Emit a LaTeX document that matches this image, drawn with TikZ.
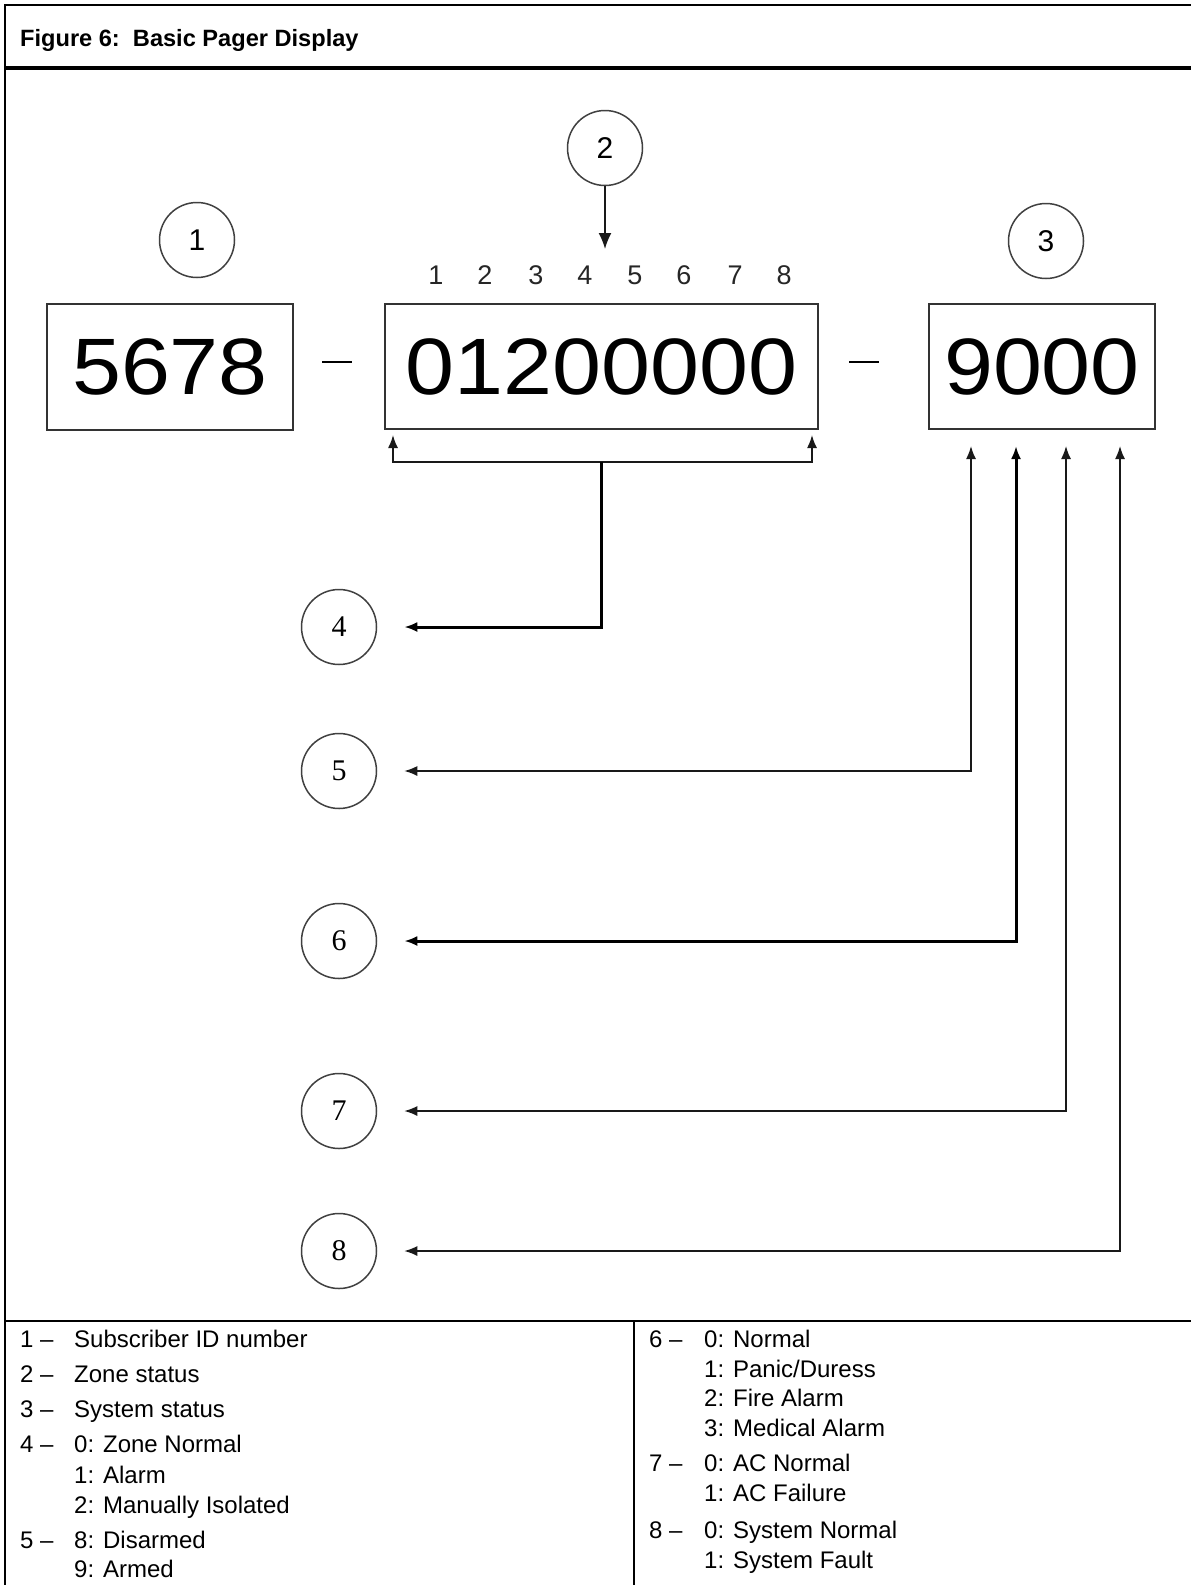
\documentclass[tikz,border=0pt]{standalone}
\usepackage{fontspec}
\setmainfont{Liberation Sans}
\newfontfamily\serifnum{Liberation Serif}
\usetikzlibrary{arrows.meta,calc}
\begin{document}
\begin{tikzpicture}[x=1pt,y=-1pt,
  rule/.style={line width=2pt,black},
  pbox/.style={draw=black!80,line width=2pt,inner sep=0pt,anchor=center,font=\fontsize{80}{90}\selectfont},
  bubble/.style={circle,draw=black!75,line width=1.5pt,minimum size=75pt,inner sep=0pt,font=\fontsize{30}{36}\selectfont},
  sbubble/.style={bubble,font=\fontsize{30}{36}\serifnum},
  conn/.style={line width=1.6pt,black!90},
  thickconn/.style={line width=3pt,black},
  tipend/.style={-{Latex[length=13pt,width=10pt]}},
  bigtip/.style={-{Latex[length=16pt,width=13pt]}},
  tipboth/.style={{Latex[length=13pt,width=10pt]}-{Latex[length=13pt,width=10pt]}},
  poslabel/.style={font=\fontsize{27}{30}\selectfont,text=black!85,inner sep=0pt},
  leg/.style={anchor=base west,inner sep=0pt,font=\fontsize{24}{28}\selectfont},
  title/.style={anchor=base west,inner sep=0pt,font=\fontsize{23.6}{28}\selectfont\bfseries}
]
\fill[white] (0,0) rectangle (1191,1585);
\useasboundingbox (0,0) rectangle (1191,1585);

% frame
\draw[rule] (5,1585) -- (5,5) -- (1191,5);
\draw[line width=4.5pt] (5,68) -- (1191,68);
\draw[rule] (5,1321) -- (1191,1321);
\draw[rule] (634,1321) -- (634,1585);
\node[title] (ttl) at (20,46) {Figure 6:\ \ Basic Pager Display};

% display boxes
\node[pbox,minimum width=246pt,minimum height=126pt] (b1) at (170,367) {\scalebox{1.1}[1]{5678}};
\node[pbox,minimum width=433pt,minimum height=125pt] (b2) at (601.5,366.5) {\scalebox{1.1}[1]{01200000}};
\node[pbox,minimum width=226pt,minimum height=125pt] (b3) at (1042,366.5) {\scalebox{1.1}[1]{9000}};
\draw[line width=2.5pt] (322,362) -- (352,362);
\draw[line width=2.5pt] (849,362) -- (879,362);

% position labels
\foreach \n/\x in {1/436,2/485,3/536,4/585,5/635,6/684,7/735,8/784}
  \node[poslabel] (p\n) at (\x,275) {\n};

% top bubbles
\node[bubble] (c1) at (197,240) {1};
\node[bubble] (c2) at (605,148) {2};
\node[bubble] (c3) at (1046,241) {3};
\coordinate (t2) at (605,249);
\draw[conn,bigtip] (c2) -- (t2);

% bracket under zone box
\coordinate (bl) at (393,462);
\coordinate (br) at (812,462);
\coordinate (bm) at (601,462);
\draw[conn,tipboth,shorten <=5pt,shorten >=5pt] (b2.south -| bl) -- (bl) -- (br) -- (b2.south -| br);

% lower bubbles
\node[sbubble] (c4) at (339,627) {4};
\node[sbubble] (c5) at (339,771) {5};
\node[sbubble] (c6) at (339,941) {6};
\node[sbubble] (c7) at (339,1111) {7};
\node[sbubble] (c8) at (339,1251) {8};

\draw[thickconn,tipend,shorten >=27pt] (bm) |- (c4);

\coordinate (x5) at (971,0);
\coordinate (x6) at (1016,0);
\coordinate (x7) at (1066,0);
\coordinate (x8) at (1120,0);
\draw[conn,tipboth,shorten <=27pt,shorten >=16pt] (c5) -| (b3.south -| x5);
\draw[thickconn,tipboth,shorten <=27pt,shorten >=16pt] (c6) -| (b3.south -| x6);
\draw[conn,tipboth,shorten <=27pt,shorten >=16pt] (c7) -| (b3.south -| x7);
\draw[conn,tipboth,shorten <=27pt,shorten >=16pt] (c8) -| (b3.south -| x8);

% legend left
\node[leg] (n1) at (20,1347) {1 –};
\node[leg] (l1) at (74,1347) {Subscriber ID number};
\node[leg] (n2) at (20,1382) {2 –};
\node[leg] (l2) at (74,1382) {Zone status};
\node[leg] (n3) at (20,1417) {3 –};
\node[leg] (l3) at (74,1417) {System status};
\node[leg] (n4) at (20,1452) {4 –};
\node[leg] (l4a) at (74,1452) {0: Zone Normal};
\node[leg] (l4b) at (74,1483) {1: Alarm};
\node[leg] (l4c) at (74,1513) {2: Manually Isolated};
\node[leg] (n5) at (20,1548) {5 –};
\node[leg] (l5a) at (74,1548) {8: Disarmed};
\node[leg] (l5b) at (74,1577) {9: Armed};

% legend right
\node[leg] (n6) at (649,1347) {6 –};
\node[leg] (l6a) at (704,1347) {0: Normal};
\node[leg] (l6b) at (704,1377) {1: Panic/Duress};
\node[leg] (l6c) at (704,1406) {2: Fire Alarm};
\node[leg] (l6d) at (704,1436) {3: Medical Alarm};
\node[leg] (n7) at (649,1471) {7 –};
\node[leg] (l7a) at (704,1471) {0: AC Normal};
\node[leg] (l7b) at (704,1501) {1: AC Failure};
\node[leg] (n8) at (649,1538) {8 –};
\node[leg] (l8a) at (704,1538) {0: System Normal};
\node[leg] (l8b) at (704,1568) {1: System Fault};
\end{tikzpicture}
\end{document}
